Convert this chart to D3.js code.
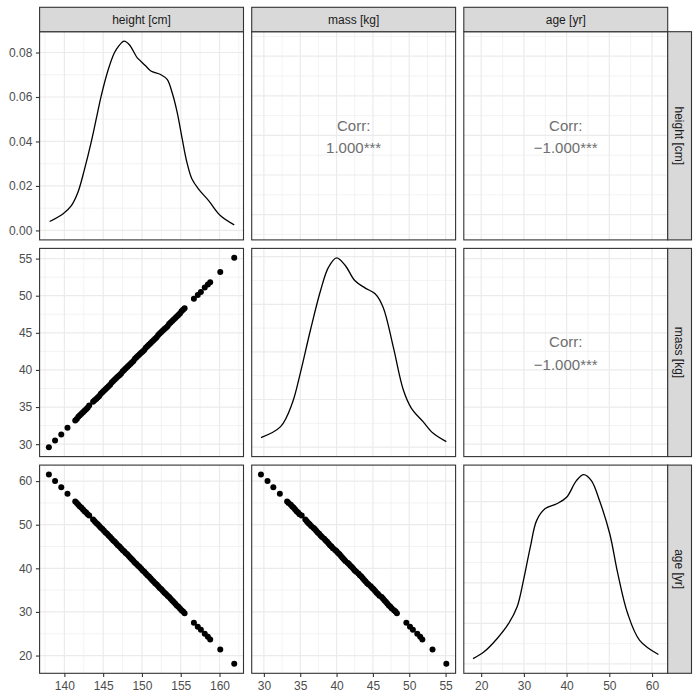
<!DOCTYPE html>
<html>
<head>
<meta charset="utf-8">
<script src="https://cdn.jsdelivr.net/npm/d3@7"></script>
<style>
body { margin: 0; background: #fff; }
</style>
</head>
<body>
<script>
// variable names (strip labels)
var varNames = ["height [cm]", "mass [kg]", "age [yr]"];

var height = [138.0,138.8,139.6,140.4,141.4,141.6,141.8,142.0,142.2,142.4,142.6,142.8,143.0,143.2,
  143.7,143.9,144.1,144.3,144.5,144.7,144.9,145.1,145.3,145.5,145.7,145.9,146.1,146.3,146.5,146.7,146.9,
  147.1,147.3,147.5,147.7,147.9,148.1,148.3,148.5,148.7,148.9,149.1,149.3,149.5,149.7,149.9,150.1,150.3,
  150.5,150.7,150.9,151.1,151.3,151.5,151.7,151.9,152.1,152.3,152.5,152.7,152.9,153.1,153.3,153.5,153.7,
  153.9,154.1,154.3,154.5,154.7,154.9,155.1,155.3,155.5,156.7,157.2,157.6,158.1,158.5,158.8,160.1,161.9];
var mass = [29.6,30.5,31.3,32.2,33.2,33.4,33.7,33.9,34.1,34.3,34.5,34.7,34.9,35.2,
  35.7,35.9,36.1,36.3,36.5,36.8,37.0,37.2,37.4,37.6,37.8,38.0,38.3,38.5,38.7,38.9,39.1,
  39.3,39.5,39.8,40.0,40.2,40.4,40.6,40.8,41.0,41.2,41.5,41.7,41.9,42.1,42.3,42.5,42.7,
  43.0,43.2,43.4,43.6,43.8,44.0,44.2,44.4,44.7,44.9,45.1,45.3,45.5,45.7,45.9,46.2,46.4,
  46.6,46.8,47.0,47.2,47.4,47.6,47.9,48.1,48.3,49.6,50.1,50.5,51.1,51.5,51.8,53.2,55.1];
var age = [61.5,60.0,58.6,57.1,55.3,55.0,54.6,54.2,53.9,53.5,53.1,52.8,52.4,52.1,
  51.2,50.8,50.4,50.1,49.7,49.3,49.0,48.6,48.2,47.9,47.5,47.2,46.8,46.4,46.1,45.7,45.3,
  45.0,44.6,44.2,43.9,43.5,43.2,42.8,42.4,42.1,41.7,41.3,41.0,40.6,40.3,39.9,39.5,39.2,
  38.8,38.4,38.1,37.7,37.3,37.0,36.6,36.3,35.9,35.5,35.2,34.8,34.4,34.1,33.7,33.4,33.0,
  32.6,32.3,31.9,31.5,31.2,30.8,30.4,30.1,29.7,27.5,26.6,25.9,25.0,24.3,23.7,21.4,18.1];

// density curves on the diagonal
var heightDensX = [138.1,139.8,140.9,141.75,142.6,143.45,144.1,144.75,145.6,146.45,147.0,147.7,148.35,149.4,149.85,
  150.5,151.15,152.4,153.25,153.9,154.55,155.2,155.8,156.45,157.3,158.6,160.1,161.9];
var heightDensY = [0.0040,0.0074,0.0112,0.0172,0.0276,0.0396,0.0500,0.0605,0.0717,0.0799,0.0829,0.0851,0.0836,0.0776,0.0761,
  0.0739,0.0717,0.0701,0.0679,0.0619,0.0530,0.0410,0.0306,0.0231,0.0186,0.0134,0.0067,0.0025];
var massDensX = [29.6,32.3,33.9,35.0,36.4,37.8,38.9,40.0,41.2,42.5,43.9,45.3,46.4,47.8,49.2,50.3,51.9,53.3,55.1];
var massDensY = [0.0040,0.0086,0.0184,0.0309,0.0491,0.0658,0.0756,0.0795,0.0763,0.0700,0.0669,0.0644,0.0588,0.0421,
  0.0239,0.0163,0.0107,0.0058,0.0023];
var ageDensX = [18.1,20.6,23.7,26.4,28.4,29.9,31.5,33.0,35.0,37.7,40.0,42.3,44.0,45.8,47.7,50.1,52.0,54.3,57.1,61.5];
var ageDensY = [0.0013,0.0029,0.0062,0.0099,0.0140,0.0206,0.0288,0.0354,0.0383,0.0395,0.0411,0.0452,0.0467,0.0452,
  0.0403,0.0321,0.0222,0.0124,0.0058,0.0023];

// correlation labels for the upper panels [row][col]
var corrLabels = [[null, "1.000***", "\u22121.000***"],
                  [null, null, "\u22121.000***"]];

var data = [height, mass, age];
var densX = [heightDensX, massDensX, ageDensX];
var densY = [heightDensY, massDensY, ageDensY];

var FONT = "'Liberation Sans', Arial, Helvetica, sans-serif";
var L = 39.6, T = 31.7, W = 203.9, H = 208.2, GX = 8.2, GY = 8.5;
var stripH = 24.4, stripW = 23.8;

function px(j) { return L + j * (W + GX); }
function py(i) { return T + i * (H + GY); }
function expand(ext) {
    var pad = (ext[1] - ext[0]) * 0.05;
    return [ext[0] - pad, ext[1] + pad];
}
function minorBreaks(domain, majors) {
    var step = majors[1] - majors[0], out = [];
    for (var v = majors[0] - step / 2; v <= domain[1]; v += step) {
        if (v >= domain[0]) out.push(v);
    }
    return out;
}

var svg = d3.select("body").append("svg")
    .attr("width", 700)
    .attr("height", 700)
    .style("font-family", FONT);

svg.append("rect").attr("width", 700).attr("height", 700).attr("fill", "#fff");

var xScales = data.map(function(d) {
    return d3.scaleLinear().domain(expand(d3.extent(d))).range([0, W]);
});
var yScales = data.map(function(d) {
    return d3.scaleLinear().domain(expand(d3.extent(d))).range([H, 0]);
});
var densScales = densY.map(function(d) {
    return d3.scaleLinear().domain(expand([0, d3.max(d)])).range([H, 0]);
});

for (var i = 0; i < 3; i++) {
    for (var j = 0; j < 3; j++) {
        var g = svg.append("g").attr("transform", "translate(" + px(j) + "," + py(i) + ")");
        var xs = xScales[j];
        var ys = (i === j) ? densScales[i] : yScales[i];

        g.append("rect").attr("width", W).attr("height", H).attr("fill", "#fff");

        var xMaj = xs.ticks(5), yMaj = ys.ticks(5);
        var xMin = minorBreaks(xs.domain(), xMaj), yMin = minorBreaks(ys.domain(), yMaj);

        // minor grid
        g.selectAll(".vmin").data(xMin).join("line")
            .attr("x1", d => xs(d)).attr("x2", d => xs(d)).attr("y1", 0).attr("y2", H)
            .attr("stroke", "#EBEBEB").attr("stroke-width", 0.6);
        g.selectAll(".hmin").data(yMin).join("line")
            .attr("y1", d => ys(d)).attr("y2", d => ys(d)).attr("x1", 0).attr("x2", W)
            .attr("stroke", "#EBEBEB").attr("stroke-width", 0.6);
        // major grid
        g.selectAll(".vmaj").data(xMaj).join("line")
            .attr("x1", d => xs(d)).attr("x2", d => xs(d)).attr("y1", 0).attr("y2", H)
            .attr("stroke", "#EBEBEB").attr("stroke-width", 1.2);
        g.selectAll(".hmaj").data(yMaj).join("line")
            .attr("y1", d => ys(d)).attr("y2", d => ys(d)).attr("x1", 0).attr("x2", W)
            .attr("stroke", "#EBEBEB").attr("stroke-width", 1.2);

        if (i === j) {
            var pts = densX[i].map((x, k) => [x, densY[i][k]]);
            var line = d3.line()
                .x(d => xs(d[0]))
                .y(d => ys(d[1]))
                .curve(d3.curveCatmullRom.alpha(0.5));
            g.append("path")
                .attr("d", line(pts))
                .attr("fill", "none")
                .attr("stroke", "#000")
                .attr("stroke-width", 1.3);
        } else if (i > j) {
            var xd = data[j], yd = data[i];
            g.selectAll("circle").data(xd).join("circle")
                .attr("cx", (d, k) => xs(xd[k]))
                .attr("cy", (d, k) => ys(yd[k]))
                .attr("r", 3)
                .attr("fill", "#000");
        } else {
            var t = g.append("g")
                .attr("fill", "#6E6E6E")
                .attr("text-anchor", "middle")
                .style("font-size", "15px");
            t.append("text").attr("x", W / 2).attr("y", H / 2 - 5.2).text("Corr:");
            t.append("text").attr("x", W / 2).attr("y", H / 2 + 17.4).text(corrLabels[i][j]);
        }

        g.append("rect").attr("width", W).attr("height", H)
            .attr("fill", "none").attr("stroke", "#333").attr("stroke-width", 1.1);
    }
}

// top strips
for (var j = 0; j < 3; j++) {
    var s = svg.append("g").attr("transform", "translate(" + px(j) + "," + (T - stripH) + ")");
    s.append("rect").attr("width", W).attr("height", stripH)
        .attr("fill", "#D9D9D9").attr("stroke", "#333").attr("stroke-width", 1.1);
    s.append("text").attr("x", W / 2).attr("y", stripH / 2 + 4.6)
        .attr("text-anchor", "middle").attr("fill", "#1A1A1A")
        .style("font-size", "12px").text(varNames[j]);
}
// right strips
for (var i = 0; i < 3; i++) {
    var s = svg.append("g").attr("transform", "translate(" + (px(2) + W) + "," + py(i) + ")");
    s.append("rect").attr("width", stripW).attr("height", H)
        .attr("fill", "#D9D9D9").attr("stroke", "#333").attr("stroke-width", 1.1);
    s.append("text")
        .attr("transform", "translate(" + (stripW / 2) + "," + (H / 2) + ") rotate(90)")
        .attr("y", 4.3)
        .attr("text-anchor", "middle").attr("fill", "#1A1A1A")
        .style("font-size", "12px").text(varNames[i]);
}

function styleAxis(sel) {
    sel.attr("font-family", FONT).attr("font-size", 12);
    sel.select(".domain").remove();
    sel.selectAll(".tick line").attr("stroke", "#333").attr("stroke-width", 1.1);
    sel.selectAll(".tick text").attr("fill", "#4D4D4D");
}

// left axes
for (var i = 0; i < 3; i++) {
    var sc = (i === 0) ? densScales[0] : yScales[i];
    var ax = d3.axisLeft(sc).ticks(5).tickSize(3.7).tickPadding(3.6);
    if (i === 0) ax.tickFormat(d3.format(".2f"));
    svg.append("g")
        .attr("transform", "translate(" + L + "," + py(i) + ")")
        .call(ax)
        .call(styleAxis);
}
// bottom axes
for (var j = 0; j < 3; j++) {
    svg.append("g")
        .attr("transform", "translate(" + px(j) + "," + (py(2) + H) + ")")
        .call(d3.axisBottom(xScales[j]).ticks(5).tickSize(3.7).tickPadding(4.2))
        .call(styleAxis);
}
</script>
</body>
</html>
